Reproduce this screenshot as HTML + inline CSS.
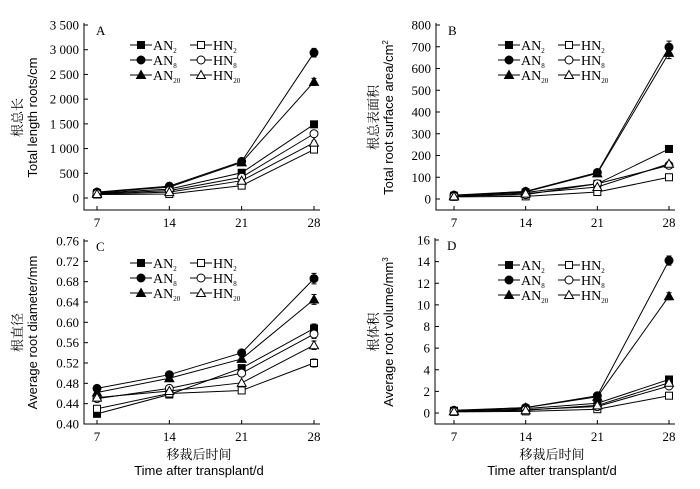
<!DOCTYPE html>
<html><head><meta charset="utf-8"><style>
body{margin:0;background:#fff}
svg{display:block;font-family:"Liberation Serif","Noto Serif CJK SC",serif}
.sans{font-family:"Liberation Sans","Noto Sans CJK SC",sans-serif}
</style></head><body>
<svg id="chart" width="700" height="489" viewBox="0 0 700 489"></svg>
<script>
const days=[7,14,21,28];
const seriesNames=["AN2","AN8","AN20","HN2","HN8","HN20"];
const lengthAN2=[100,180,510,1490],lengthAN8=[120,240,740,2940],lengthAN20=[110,220,720,2350];
const lengthHN2=[70,80,250,980],lengthHN8=[90,150,420,1300],lengthHN20=[80,120,350,1120];
const areaAN2=[15,30,70,230],areaAN8=[18,35,122,698],areaAN20=[16,33,118,672];
const areaHN2=[10,12,32,100],areaHN8=[12,20,70,155],areaHN20=[12,25,55,162];
const diamAN2=[0.420,0.458,0.510,0.588],diamAN8=[0.470,0.497,0.540,0.686],diamAN20=[0.462,0.490,0.528,0.645];
const diamHN2=[0.430,0.460,0.466,0.520],diamHN8=[0.450,0.470,0.500,0.577],diamHN20=[0.452,0.465,0.481,0.555];
const volAN2=[0.2,0.4,0.9,3.1],volAN8=[0.25,0.5,1.6,14.1],volAN20=[0.2,0.5,1.5,10.8];
const volHN2=[0.1,0.15,0.35,1.6],volHN8=[0.15,0.3,0.6,2.5],volHN20=[0.15,0.25,0.7,2.8];
const ticksA=[0,500,1000,1500,2000,2500,3000,3500];
const tickLabelsA=["0","500","1 000","1 500","2 000","2 500","3 000","3 500"];
const ticksB=[0,100,200,300,400,500,600,700,800];
const ticksC=[0.40,0.44,0.48,0.52,0.56,0.60,0.64,0.68,0.72,0.76];
const ticksD=[0,2,4,6,8,10,12,14,16];

const svg=document.getElementById('chart');
const NS="http://www.w3.org/2000/svg";
function mk(t,a,p){const e=document.createElementNS(NS,t);for(const k in a)e.setAttribute(k,a[k]);(p||svg).appendChild(e);return e;}
const markers=["sq","ci","tr","sq","ci","tr"];
const filled=[true,true,true,false,false,false];
function marker(g,type,fill,x,y){
  const f=fill?"#000":"#fff";let m;
  if(type==="sq")m=mk('rect',{x:x-3.5,y:y-3.5,width:7,height:7,fill:f,stroke:"#000","stroke-width":1},g);
  else if(type==="ci")m=mk('circle',{cx:x,cy:y,r:4,fill:f,stroke:"#000","stroke-width":1},g);
  else m=mk('path',{d:`M${x},${y-4.5}L${x+4.5},${y+3.5}L${x-4.5},${y+3.5}Z`,fill:f,stroke:"#000","stroke-width":1},g);
  return m;
}
function panel(p){
  const g=mk('g',{});
  
  
  const xs=d=>p.x0+(d-7)/21*(p.x1-p.x0);
  const ys=v=>p.yb-(v-p.vmin)/(p.vmax-p.vmin)*(p.yb-p.yt);
  const ax=mk('path',{d:`M${p.left},${p.yt-2}V${p.axisY}H${p.x1+6}`,fill:"none",stroke:"#000","stroke-width":1},g);
  
  p.ticks.forEach((t,i)=>{
    const y=ys(t);
    mk('line',{x1:p.left,x2:p.left+4,y1:y,y2:y,stroke:"#000"},g);
    const tx=mk('text',{x:p.left-5,y:y+4.5,"text-anchor":"end","font-size":13},g);
    tx.textContent=p.labels?p.labels[i]:p.fmt(t);
    
  });
  days.forEach(d=>{
    const x=xs(d);
    mk('line',{x1:x,x2:x,y1:p.axisY,y2:p.axisY-4,stroke:"#000"},g);
    const tx=mk('text',{x:x,y:p.axisY+17,"text-anchor":"middle","font-size":13},g);
    tx.textContent=d;
    
  });
  const lt=mk('text',{x:p.left+12,y:p.yt+10,"font-size":13},g);lt.textContent=p.letter;
  
  const cy=(p.yt+p.axisY)/2;
  const t1=mk('text',{x:p.cnX,y:cy,transform:`rotate(-90 ${p.cnX} ${cy})`,"text-anchor":"middle","font-size":13},g);
  t1.textContent=p.cn;
  const t2=mk('text',{x:p.cnX+15,y:cy,transform:`rotate(-90 ${p.cnX+15} ${cy})`,"text-anchor":"middle","font-size":13,"class":"sans"},g);
  t2.innerHTML=p.en;
  if(p.xt){
    const a=mk('text',{x:(p.left+p.x1)/2,y:p.axisY+35,"text-anchor":"middle","font-size":13},g);a.textContent="移裁后时间";
    
    const b=mk('text',{x:(p.left+p.x1)/2,y:p.axisY+51,"text-anchor":"middle","font-size":13,"class":"sans"},g);b.textContent="Time after transplant/d";
    
  }
  p.series.forEach((s,i)=>{
    const sg=mk('g',{},g);
    
    
    const pts=s.map((v,j)=>xs(days[j])+","+ys(v)).join(" ");
    mk('polyline',{points:pts,fill:"none",stroke:"#000","stroke-width":1},sg);
    const e=(p.err||0)*s[3];
    if(e>0){const x=xs(28);mk('path',{d:`M${x},${ys(s[3]+e)}V${ys(s[3]-e)}M${x-2.5},${ys(s[3]+e)}h5M${x-2.5},${ys(s[3]-e)}h5`,stroke:"#000",fill:"none"},sg);}
    s.forEach((v,j)=>{const m=marker(sg,markers[i],filled[i],xs(days[j]),ys(v));
      
      });
  });
  const lg=mk('g',{},g);
  seriesNames.forEach((n,i)=>{
    const col=i<3?0:1,row=i%3;
    const lx=p.lgX+col*60,ly=p.lgY+row*15;
    const eg=mk('g',{},lg);
    mk('line',{x1:lx,x2:lx+22,y1:ly,y2:ly,stroke:"#000"},eg);
    marker(eg,markers[i],filled[i],lx+11,ly);
    const t=mk('text',{x:lx+23,y:ly+5,"font-size":14},eg);
    t.innerHTML=n.slice(0,2)+'<tspan font-size="7" dy="3">'+n.slice(2)+'</tspan>';
  });
}
panel({letter:"A",left:84,x0:97,x1:314,yt:25,yb:198,axisY:210,vmin:0,vmax:3500,ticks:ticksA,labels:tickLabelsA,
  cnX:22,cn:"根总长",en:"Total length roots/cm",lgX:130,lgY:45,err:0.03,
  series:[lengthAN2,lengthAN8,lengthAN20,lengthHN2,lengthHN8,lengthHN20]});
panel({letter:"B",left:436,x0:454,x1:669,yt:25,yb:199,axisY:210,vmin:0,vmax:800,ticks:ticksB,fmt:v=>String(v),
  cnX:378,cn:"根总表面积",en:'Total root surface area/cm<tspan font-size="8" dy="-5">2</tspan>',lgX:498,lgY:45,err:0.04,
  series:[areaAN2,areaAN8,areaAN20,areaHN2,areaHN8,areaHN20]});
panel({letter:"C",left:84,x0:97,x1:314,yt:241,yb:424,axisY:424,vmin:0.40,vmax:0.76,ticks:ticksC,fmt:v=>v.toFixed(2),
  cnX:22,cn:"根直径",en:"Average root diameter/mm",lgX:130,lgY:263,err:0.015,xt:true,
  series:[diamAN2,diamAN8,diamAN20,diamHN2,diamHN8,diamHN20]});
panel({letter:"D",left:435,x0:454,x1:669,yt:240,yb:413,axisY:424,vmin:0,vmax:16,ticks:ticksD,fmt:v=>String(v),
  cnX:378,cn:"根体积",en:'Average root volume/mm<tspan font-size="8" dy="-5">3</tspan>',lgX:498,lgY:265,err:0.03,xt:true,
  series:[volAN2,volAN8,volAN20,volHN2,volHN8,volHN20]});
</script>
</body></html>
